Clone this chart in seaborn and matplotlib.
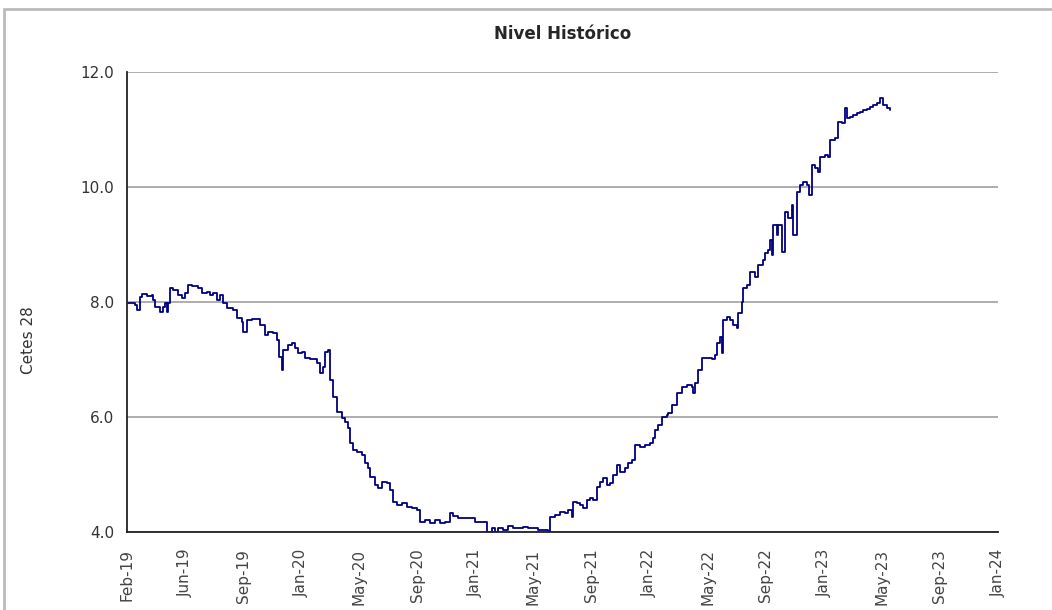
import matplotlib
matplotlib.use('Agg')

import matplotlib.pyplot as plt
import matplotlib.dates as mdates
import seaborn as sns
import pandas as pd
import numpy as np

# Serie Cetes 28 (lectura aproximada del gráfico)
fechas = [
    "2019-02-03", "2019-02-17", "2019-02-21", "2019-02-27", "2019-03-04", "2019-03-14",
    "2019-03-25", "2019-03-27", "2019-03-31", "2019-04-10", "2019-04-16", "2019-04-20",
    "2019-04-25", "2019-04-27", "2019-05-01", "2019-05-07", "2019-05-17", "2019-05-26",
    "2019-06-01", "2019-06-07", "2019-06-15", "2019-06-28", "2019-07-06", "2019-07-16",
    "2019-07-23", "2019-07-29", "2019-08-06", "2019-08-12", "2019-08-18", "2019-08-27",
    "2019-09-08", "2019-09-16", "2019-09-27", "2019-09-29", "2019-10-07", "2019-10-17",
    "2019-10-28", "2019-11-03", "2019-11-13", "2019-11-19", "2019-11-30", "2019-12-08",
    "2019-12-12", "2019-12-18", "2019-12-20", "2019-12-31", "2020-01-08", "2020-01-14",
    "2020-01-20", "2020-01-29", "2020-02-04", "2020-02-14", "2020-02-20", "2020-02-29",
    "2020-03-06", "2020-03-12", "2020-03-16", "2020-03-22", "2020-03-27", "2020-04-02",
    "2020-04-10", "2020-04-20", "2020-04-27", "2020-05-03", "2020-05-07", "2020-05-13",
    "2020-05-21", "2020-06-01", "2020-06-07", "2020-06-13", "2020-06-17", "2020-06-28",
    "2020-07-04", "2020-07-12", "2020-07-22", "2020-07-29", "2020-08-04", "2020-08-12",
    "2020-08-22", "2020-09-02", "2020-09-12", "2020-09-22", "2020-09-28", "2020-10-09",
    "2020-10-19", "2020-10-29", "2020-11-09", "2020-11-19", "2020-11-30", "2020-12-06",
    "2020-12-16", "2020-12-26", "2021-01-10", "2021-01-20", "2021-01-31", "2021-02-10",
    "2021-02-14", "2021-02-24", "2021-03-02", "2021-03-09", "2021-03-19", "2021-03-29",
    "2021-04-09", "2021-04-29", "2021-05-10", "2021-05-20", "2021-05-30", "2021-06-14",
    "2021-06-20", "2021-06-24", "2021-07-05", "2021-07-15", "2021-07-25", "2021-07-31",
    "2021-08-09", "2021-08-11", "2021-08-19", "2021-08-25", "2021-08-31", "2021-09-09",
    "2021-09-15", "2021-09-21", "2021-09-29", "2021-10-05", "2021-10-12", "2021-10-20",
    "2021-10-26", "2021-11-01", "2021-11-10", "2021-11-16", "2021-11-26", "2021-12-02",
    "2021-12-11", "2021-12-17", "2021-12-27", "2022-01-07", "2022-01-17", "2022-01-23",
    "2022-01-27", "2022-02-02", "2022-02-11", "2022-02-21", "2022-02-23", "2022-03-03",
    "2022-03-14", "2022-03-24", "2022-04-03", "2022-04-14", "2022-04-16", "2022-04-20",
    "2022-04-26", "2022-05-04", "2022-05-15", "2022-05-25", "2022-05-31", "2022-06-04",
    "2022-06-10", "2022-06-15", "2022-06-17", "2022-06-25", "2022-07-01", "2022-07-07",
    "2022-07-16", "2022-07-18", "2022-07-26", "2022-07-28", "2022-08-05", "2022-08-11",
    "2022-08-22", "2022-08-28", "2022-09-07", "2022-09-11", "2022-09-18", "2022-09-22",
    "2022-09-26", "2022-09-28", "2022-10-06", "2022-10-08", "2022-10-17", "2022-10-23",
    "2022-10-29", "2022-11-06", "2022-11-08", "2022-11-17", "2022-11-23", "2022-11-29",
    "2022-12-07", "2022-12-11", "2022-12-18", "2022-12-24", "2022-12-30", "2023-01-03",
    "2023-01-13", "2023-01-20", "2023-01-24", "2023-02-03", "2023-02-09", "2023-02-10",
    "2023-02-18", "2023-02-24", "2023-02-28", "2023-03-06", "2023-03-12", "2023-03-21",
    "2023-03-27", "2023-04-02", "2023-04-10", "2023-04-16", "2023-04-22", "2023-05-01",
    "2023-05-07", "2023-05-13", "2023-05-21", "2023-05-28",
]
tasas = [
    7.98, 7.95, 7.86, 8.09, 8.14, 8.10,
    8.12, 8.03, 7.91, 7.83, 7.92, 7.98,
    7.83, 7.98, 8.24, 8.20, 8.12, 8.07,
    8.15, 8.30, 8.27, 8.24, 8.15, 8.18,
    8.12, 8.15, 8.03, 8.12, 7.98, 7.90,
    7.86, 7.72, 7.65, 7.48, 7.69, 7.70,
    7.70, 7.60, 7.43, 7.48, 7.46, 7.34,
    7.04, 6.82, 7.17, 7.25, 7.29, 7.20,
    7.11, 7.13, 7.03, 7.01, 7.00, 6.94,
    6.77, 6.87, 7.13, 7.17, 6.64, 6.35,
    6.09, 5.98, 5.91, 5.81, 5.55, 5.43,
    5.39, 5.34, 5.20, 5.11, 4.96, 4.82,
    4.77, 4.87, 4.85, 4.73, 4.52, 4.47,
    4.50, 4.43, 4.42, 4.38, 4.17, 4.20,
    4.16, 4.20, 4.16, 4.18, 4.33, 4.28,
    4.24, 4.24, 4.24, 4.17, 4.17, 4.17,
    4.00, 4.07, 4.00, 4.07, 4.03, 4.10,
    4.07, 4.09, 4.07, 4.07, 4.03, 4.03,
    4.00, 4.26, 4.30, 4.35, 4.33, 4.38,
    4.26, 4.52, 4.50, 4.47, 4.42, 4.56,
    4.59, 4.56, 4.78, 4.87, 4.94, 4.82,
    4.85, 4.99, 5.17, 5.04, 5.11, 5.20,
    5.25, 5.51, 5.48, 5.51, 5.55, 5.63,
    5.77, 5.86, 6.00, 6.03, 6.07, 6.21,
    6.42, 6.52, 6.56, 6.52, 6.42, 6.59,
    6.82, 7.03, 7.03, 7.00, 7.08, 7.29,
    7.39, 7.11, 7.69, 7.74, 7.69, 7.60,
    7.55, 7.81, 8.00, 8.24, 8.30, 8.52,
    8.43, 8.64, 8.73, 8.85, 8.90, 9.08,
    8.82, 9.34, 9.17, 9.34, 8.87, 9.57,
    9.46, 9.69, 9.17, 9.91, 10.03, 10.09,
    10.03, 9.86, 10.38, 10.33, 10.26, 10.52,
    10.56, 10.52, 10.82, 10.85, 10.87, 11.13,
    11.11, 11.37, 11.20, 11.22, 11.25, 11.29,
    11.31, 11.34, 11.36, 11.39, 11.42, 11.46,
    11.55, 11.43, 11.38, 11.34,
]

# Eje X: marcas cada 120 días desde Feb-19
inicio_eje = "2019-02-01"
paso_dias = 120
n_marcas = 16

df = pd.DataFrame({"Fecha": pd.to_datetime(fechas), "Cetes 28": tasas})

sns.set_style("white")
plt.rcParams['font.family'] = ['DejaVu Sans']

fig = plt.figure(figsize=(10.52, 6.10), dpi=100)
ax = fig.add_axes([0.1207, 0.1279, 0.8280, 0.7541])

sns.lineplot(data=df, x="Fecha", y="Cetes 28", color="#000080", linewidth=1.3,
             drawstyle="steps-post", ax=ax)

marcas = pd.date_range(inicio_eje, periods=n_marcas, freq=f"{paso_dias}D")
ax.set_xlim(marcas[0], marcas[-1])
ax.set_xticks(marcas)
ax.xaxis.set_major_formatter(mdates.DateFormatter("%b-%y"))
ax.set_ylim(4, 12)
ax.set_yticks([4, 6, 8, 10, 12])
ax.yaxis.set_major_formatter(matplotlib.ticker.FormatStrFormatter("%.1f"))

ax.yaxis.grid(True, color="#a0a0a0", linewidth=1.2)
ax.set_axisbelow(True)
for s in ["top", "right"]:
    ax.spines[s].set_visible(False)
for s in ["left", "bottom"]:
    ax.spines[s].set_color("#222222")
    ax.spines[s].set_linewidth(1.3)

ax.tick_params(axis="y", direction="out", length=5, width=1.2, color="#222222",
               labelsize=11, labelcolor="#333333", pad=4)
ax.tick_params(axis="x", direction="out", length=5, width=1.2, color="#222222",
               labelsize=11, labelcolor="#444444", pad=7, rotation=90)
for lab in ax.get_xticklabels():
    lab.set_va("top")

ax.set_xlabel("")
ax.set_ylabel("Cetes 28", fontsize=11, color="#333333")
ax.yaxis.set_label_coords(-0.104, 0.417)
ax.set_title("Nivel Histórico", fontsize=12, fontweight="bold", pad=24)

# marco gris alrededor de la figura
marco = plt.Rectangle((0.004, -0.1), 1.2, 1.086, transform=fig.transFigure,
                      fill=False, edgecolor="#bbbbbb", linewidth=2)
fig.patches.append(marco)

plt.savefig("out.png", dpi=100)
plt.close()
